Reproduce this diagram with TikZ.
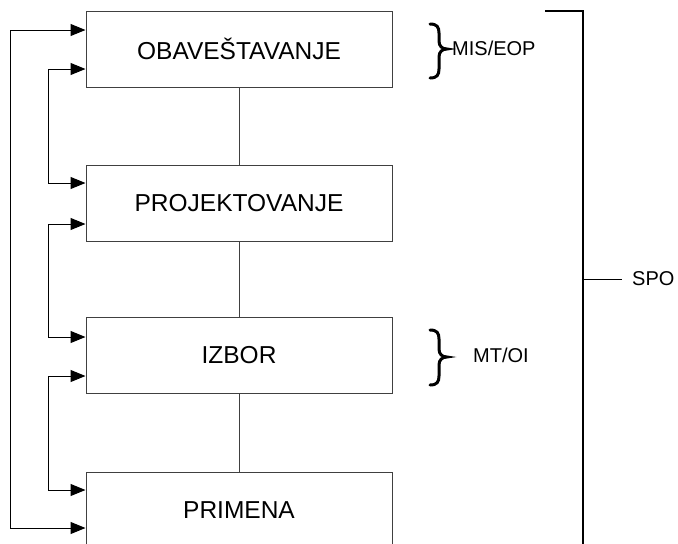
\documentclass[tikz,border=0pt]{standalone}
\usepackage{fontspec}
\setmainfont{Liberation Sans}
\usetikzlibrary{arrows.meta}
\begin{document}
\begin{tikzpicture}[x=1pt,y=-1pt,
  box/.style={draw=black!75,line width=1pt,minimum width=306pt,minimum height=76pt,inner sep=0pt,font=\fontsize{24.5}{28}\selectfont},
  link/.style={draw=black!75,line width=1pt},
  loop/.style={draw=black,line width=1pt,{Triangle[length=15pt,width=12pt]}-{Triangle[length=15pt,width=12pt]}},
  lbl/.style={anchor=west,inner sep=0pt,font=\fontsize{20}{24}\selectfont},
  brace/.style={draw=black,line width=3pt,line cap=round},
  bracket/.style={draw=black,line width=2pt}]
\clip (0,0) rectangle (678,544);
\useasboundingbox (0,0) rectangle (678,544);
\node[box] (b1) at (239,49) {OBAVEŠTAVANJE};
\node[box] (b2) at (239,203) {PROJEKTOVANJE};
\node[box] (b3) at (239,355.5) {IZBOR};
\node[box] (b4) at (239,510) {PRIMENA};
\draw[link] (b1.south) -- (b2.north);
\draw[link] (b2.south) -- (b3.north);
\draw[link] (b3.south) -- (b4.north);
\draw[loop] (b1.west |- 0,30) -- (10,30) -- (10,528) -- (b4.west |- 0,528);
\draw[loop] (b1.west |- 0,69) -- (48,69) -- (48,183) -- (b2.west |- 0,183);
\draw[loop] (b2.west |- 0,224) -- (48,224) -- (48,337) -- (b3.west |- 0,337);
\draw[loop] (b3.west |- 0,376) -- (48,376) -- (48,490) -- (b4.west |- 0,490);
% braces
\draw[brace] (430,24) .. controls (437,24) and (439,27) .. (439,33) -- (439,41) .. controls (439,46) and (442,49) .. (447,49) .. controls (442,49) and (439,52) .. (439,57) -- (439,69) .. controls (439,75) and (437,78) .. (430,78);
\draw[brace] (430,330) .. controls (437,330) and (439,333) .. (439,339) -- (439,349) .. controls (439,354) and (442,357) .. (447,357) .. controls (442,357) and (439,360) .. (439,365) -- (439,376) .. controls (439,382) and (437,385) .. (430,385);
\node[lbl] (mis) at (452,48) {MIS/EOP};
\node[lbl] (mt) at (473,355) {MT/OI};
% SPO bracket
\coordinate (t1) at (545,11);
\coordinate (t2) at (583,11);
\coordinate (t3) at (583,550);
\coordinate (m1) at (583,279);
\node[lbl] (spo) at (632,279) {SPO};
\draw[bracket] (t1) -- (t2) -- (t3);
\draw[line width=1pt] (m1) -- (622,279);
\end{tikzpicture}
\end{document}
